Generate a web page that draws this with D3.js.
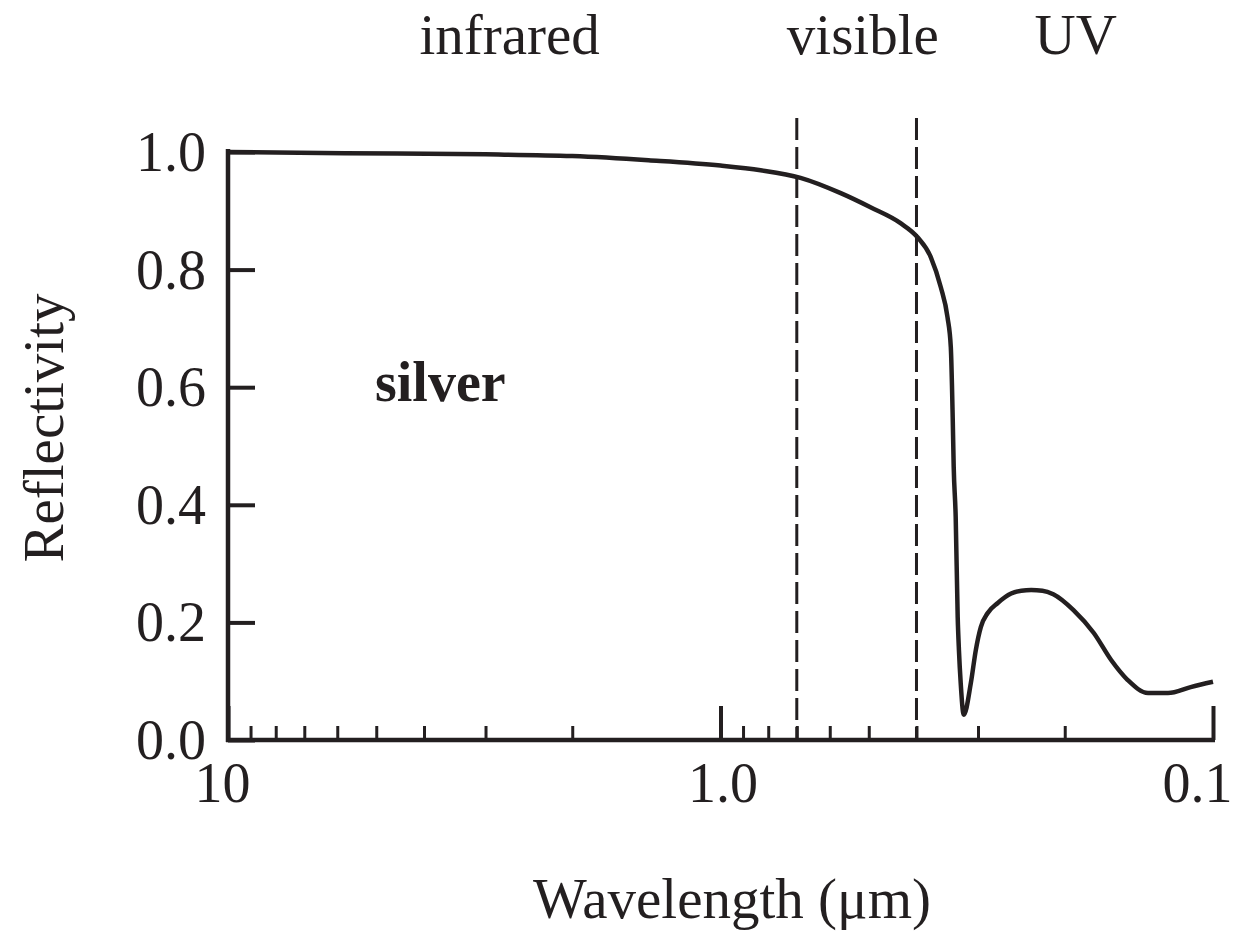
<!DOCTYPE html>
<html>
<head>
<meta charset="utf-8">
<script src="https://cdn.jsdelivr.net/npm/d3@7"></script>
<style>
  body { margin: 0; background: #fff; }
  svg text { font-family: "Liberation Serif", "Times New Roman", serif; fill: #231f20; }
</style>
</head>
<body>
<svg id="vis" width="1236" height="938"></svg>
<script>
// wavelength (µm) and reflectivity of silver
const wavelength = [10, 5.8, 3, 2, 1.4, 1.0, 0.829, 0.688, 0.57, 0.496, 0.431, 0.398, 0.374, 0.357, 0.346,
  0.3407, 0.3377, 0.3361, 0.333, 0.3299, 0.328, 0.3253, 0.3207, 0.3102, 0.3031, 0.2961, 0.2867, 0.2735,
  0.257, 0.245, 0.234, 0.222, 0.211, 0.192, 0.1746, 0.161, 0.149, 0.1355, 0.1234, 0.111, 0.1]
const reflectivity = [1.0, 0.998, 0.996, 0.993, 0.986, 0.977, 0.969, 0.956, 0.930, 0.906, 0.879, 0.855, 0.821, 0.770, 0.719,
  0.668, 0.549, 0.464, 0.379, 0.209, 0.153, 0.097, 0.043, 0.097, 0.153, 0.192, 0.216, 0.233,
  0.249, 0.254, 0.255, 0.254, 0.248, 0.221, 0.182, 0.136, 0.102, 0.080, 0.080, 0.090, 0.099]

const yTicks = [0, 0.2, 0.4, 0.6, 0.8, 1.0]
const xMajor = [10, 1, 0.1]
const xMajorLabels = ["10", "1.0", "0.1"]
const xMinor = [9, 8, 7, 6, 5, 4, 3, 2, 0.9, 0.8, 0.7, 0.6, 0.5, 0.4, 0.3, 0.2]
const visibleBand = [0.7, 0.4] // dashed boundaries
const regions = [{ label: "infrared", at: 2.68 }, { label: "visible", at: 0.514 }, { label: "UV", at: 0.19 }]

const ink = "#231f20"
const vis = d3.select("#vis")

// scales: log x axis running from 10 down to 0.1
const x = d3.scaleLog().domain([10, 0.1]).range([228, 1213])
const y = d3.scaleLinear().domain([0, 1]).range([740, 152])

// x axis: minor ticks
vis.append("g")
  .attr("transform", "translate(0,740)")
  .call(d3.axisBottom(x).tickValues(xMinor).tickSize(-14).tickFormat(""))
  .call(g => g.select(".domain").remove())
  .call(g => g.selectAll(".tick line").attr("stroke", ink).attr("stroke-width", 3))

// x axis: major ticks and labels
vis.append("g")
  .attr("transform", "translate(0,740)")
  .call(d3.axisBottom(x).tickValues(xMajor).tickSize(-34).tickPadding(22)
    .tickFormat((d, i) => xMajorLabels[i]))
  .call(g => g.select(".domain").attr("stroke", ink).attr("stroke-width", 4.5)
    .attr("d", `M${x(10) - 2},0H${x(0.1) + 2}`))
  .call(g => g.selectAll(".tick line").attr("stroke", ink).attr("stroke-width", 4))
  .call(g => g.selectAll(".tick text")
    .attr("font-size", 56)
    .attr("fill", ink)
    .attr("dy", "0.71em")
    .attr("dx", (d, i) => i === 0 ? -6 : i === 2 ? -16 : 2))

// y axis
vis.append("g")
  .attr("transform", "translate(228,0)")
  .call(d3.axisLeft(y).tickValues(yTicks).tickSize(-27).tickPadding(22).tickFormat(d3.format(".1f")))
  .call(g => g.select(".domain").attr("stroke", ink).attr("stroke-width", 4.5)
    .attr("d", `M0,${y(1) - 3}V${y(0) + 2}`))
  .call(g => g.selectAll(".tick line").attr("stroke", ink).attr("stroke-width", 4))
  .call(g => g.selectAll(".tick text").attr("font-size", 56).attr("fill", ink).attr("dy", "0.33em"))
  .call(g => g.selectAll(".tick text").attr("x", -22))

// dashed visible-band boundaries
vis.selectAll(".band")
  .data(visibleBand)
  .enter()
  .append("line")
  .attr("class", "band")
  .attr("x1", d => x(d)).attr("x2", d => x(d))
  .attr("y1", y(1.058)).attr("y2", y(0))
  .attr("stroke", ink)
  .attr("stroke-width", 3)
  .attr("stroke-dasharray", "22,7")

// reflectivity curve
const pts = wavelength.map((w, i) => [w, reflectivity[i]])
vis.append("path")
  .datum(pts)
  .attr("fill", "none")
  .attr("stroke", ink)
  .attr("stroke-width", 4.5)
  .attr("stroke-linejoin", "round")
  .attr("d", d3.line().x(d => x(d[0])).y(d => y(d[1])).curve(d3.curveMonotoneX))

// region labels along the top
vis.selectAll(".region")
  .data(regions)
  .enter()
  .append("text")
  .attr("class", "region")
  .attr("x", d => x(d.at))
  .attr("y", 54)
  .attr("text-anchor", "middle")
  .attr("font-size", 57)
  .text(d => d.label)

// "silver" label
vis.append("text")
  .attr("x", 375)
  .attr("y", 401)
  .attr("font-size", 56)
  .attr("font-weight", "bold")
  .text("silver")

// axis titles
vis.append("text")
  .attr("x", 732)
  .attr("y", 918)
  .attr("text-anchor", "middle")
  .attr("font-size", 57)
  .text("Wavelength (μm)")

vis.append("text")
  .attr("transform", "translate(63,428) rotate(-90)")
  .attr("text-anchor", "middle")
  .attr("font-size", 57)
  .text("Reflectivity")
</script>
</body>
</html>
